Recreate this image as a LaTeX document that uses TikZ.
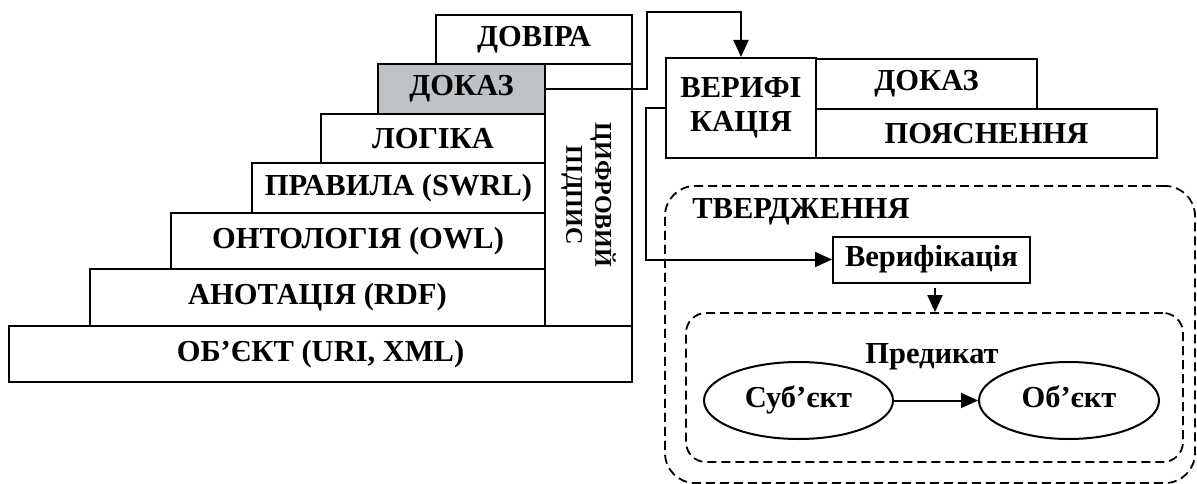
\documentclass[tikz,border=0pt]{standalone}
\usepackage{fontspec}
\setmainfont{Liberation Serif}
\usetikzlibrary{arrows.meta,shapes.geometric,calc}
\definecolor{grayfill}{RGB}{190,194,196}
\tikzset{
  txt/.style={font=\bfseries\fontsize{30.5}{33}\selectfont},
  box/.style={draw, line width=2pt, rectangle, inner sep=0pt, txt},
  oval/.style={draw, line width=2pt, ellipse, inner sep=0pt, txt, text height=21pt, text depth=7pt},
  lbl/.style={inner sep=0pt, txt},
  conn/.style={line width=2pt, -{Triangle[length=17pt,width=15pt]}},
  dashbox/.style={draw, line width=1.8pt, dash pattern=on 9pt off 5pt, rectangle, inner sep=0pt},
}
\begin{document}
\begin{tikzpicture}[x=1pt,y=-1pt]
\useasboundingbox (0,0) rectangle (1197,484);
% dashed containers
\node[dashbox, rounded corners=30pt, minimum width=530pt, minimum height=297pt] (outer) at (930,334.5) {};
\node[dashbox, rounded corners=20pt, minimum width=497pt, minimum height=149pt] (inner) at (934.5,387.5) {};
% left stack
\node[box, minimum width=623pt, minimum height=56pt] (obj) at (320.5,354) {ОБ’ЄКТ (URI, XML)};
\node[box, minimum width=455pt, minimum height=57pt] (rdf) at (317.5,297.5) {АНОТАЦІЯ (RDF)};
\node[box, minimum width=374pt, minimum height=56pt] (owl) at (358,241) {ОНТОЛОГІЯ (OWL)};
\node[box, minimum width=293pt, minimum height=50pt] (swrl) at (398.5,188) {ПРАВИЛА (SWRL)};
\node[box, minimum width=224pt, minimum height=49pt] (logic) at (433,138.5) {ЛОГІКА};
\node[box, fill=grayfill, minimum width=167pt, minimum height=50pt] (dokaz) at (461.5,89) {ДОКАЗ};
\node[box, minimum width=196pt, minimum height=49pt] (dovira) at (534,39.5) {ДОВІРА};
\node[box, rotate=-90, align=center, font=\bfseries\fontsize{24}{29}\selectfont, minimum width=262pt, minimum height=87pt] (sig) at (588.5,195) {ЦИФРОВИЙ\\ПІДПИС};
% right top
\node[box, align=center, font=\bfseries\fontsize{30.5}{34}\selectfont, minimum width=150pt, minimum height=100pt] (ver) at (741,108) {ВЕРИФІ\\КАЦІЯ};
\node[box, minimum width=221pt, minimum height=50pt] (dokaz2) at (926.5,84) {ДОКАЗ};
\node[box, minimum width=341pt, minimum height=49pt] (poyas) at (986.5,133.5) {ПОЯСНЕННЯ};
% statement
\node[lbl] (tverd) at (801,212) {ТВЕРДЖЕННЯ};
\node[box, minimum width=197pt, minimum height=46pt] (verif) at (931.5,259.5) {Верифікація};
\node[lbl] (pred) at (932,357) {Предикат};
\node[oval, minimum width=189pt, minimum height=77pt] (subj) at (798.5,400.5) {Суб’єкт};
\node[oval, minimum width=180pt, minimum height=77pt] (objt) at (1069,400.5) {Об’єкт};
% connectors
\coordinate (c1) at (647,12);
\coordinate (c2) at (646,259.5);
\draw[conn] (dokaz.east) -| (c1) -| (ver.north);
\draw[conn] (ver.west) -| (c2) -- (verif.west);
\draw[conn] ([xshift=3.5pt,yshift=-4pt]verif.south) -- ([xshift=3.5pt]verif.south |- inner.north);
\draw[conn] (subj) -- (objt);
\end{tikzpicture}
\end{document}
